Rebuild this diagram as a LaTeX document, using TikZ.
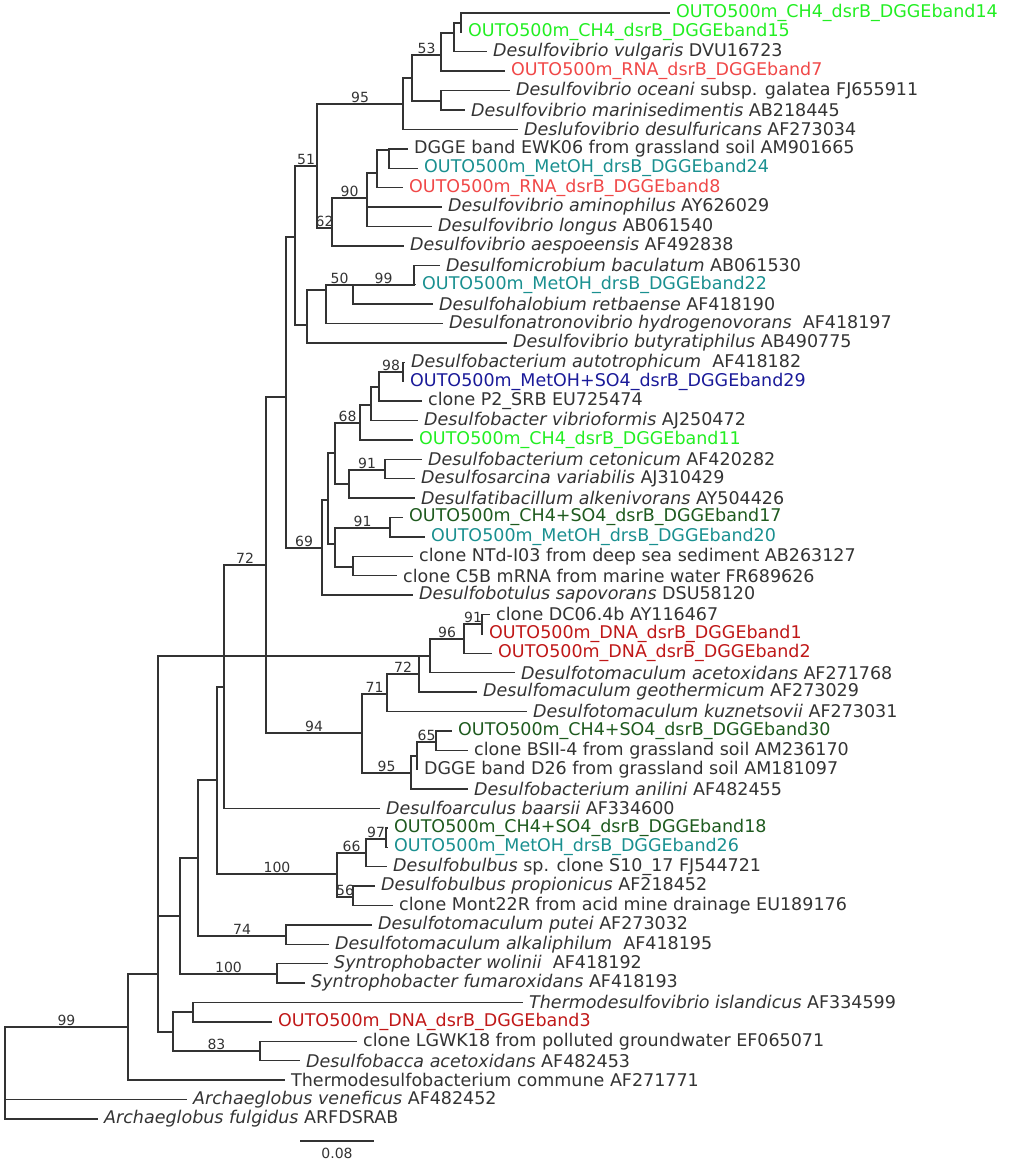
\documentclass[tikz,border=0pt]{standalone}
\usepackage{fontspec}
\setmainfont{DejaVu Sans}
\definecolor{lg}{HTML}{22EE22}
\definecolor{sal}{HTML}{F04848}
\definecolor{teal2}{HTML}{1A9090}
\definecolor{db}{HTML}{1A1A99}
\definecolor{dg}{HTML}{1E5A1E}
\definecolor{dr}{HTML}{C01818}
\definecolor{ln}{HTML}{333333}
\begin{document}
\begin{tikzpicture}[x=1pt,y=-1pt,
 br/.style={draw=ln,line width=1.4pt},
 bs/.style={pos=0.75,above,inner sep=1pt,font=\fontsize{14}{14}\selectfont,text=ln},
 lab/.style={anchor=west,inner xsep=6pt,inner ysep=0pt,font=\fontsize{17.5}{18}\selectfont,text=ln}]
\path[use as bounding box] (0,0) rectangle (1024,1164);
% leaves
\foreach \i/\xx in {1/670,2/462,3/487,4/505,5/510,6/465,7/518,8/408,9/418,10/403,11/442,12/432,13/404,14/440,15/416,16/433,17/443,18/507,19/405,20/404,21/422,22/418,23/413,24/422,25/415,26/415,27/403,28/425,29/413,30/397,31/413,32/490,33/483,34/492,35/515,36/477,37/527,38/452,39/468,40/418,41/468,42/380,43/388,44/388,45/387,46/375,47/393,48/372,49/329,50/328,51/305,52/523,53/272,54/357,55/300,56/285,57/187,58/98}
  {\coordinate (L\i) at (\xx,{13+19.4*(\i-1)});}
\node[lab,text=lg] (t1) at (L1) {OUTO500m\_CH4\_dsrB\_DGGEband14};
\node[lab,text=lg] (t2) at (L2) {OUTO500m\_CH4\_dsrB\_DGGEband15};
\node[lab] (t3) at (L3) {\textit{Desulfovibrio vulgaris} DVU16723};
\node[lab,text=sal] (t4) at (L4) {OUTO500m\_RNA\_dsrB\_DGGEband7};
\node[lab] (t5) at (L5) {\textit{Desulfovibrio oceani} subsp. galatea FJ655911};
\node[lab] (t6) at (L6) {\textit{Desulfovibrio marinisedimentis} AB218445};
\node[lab] (t7) at (L7) {\textit{Deslufovibrio desulfuricans} AF273034};
\node[lab] (t8) at (L8) {DGGE band EWK06 from grassland soil AM901665};
\node[lab,text=teal2] (t9) at (L9) {OUTO500m\_MetOH\_drsB\_DGGEband24};
\node[lab,text=sal] (t10) at (L10) {OUTO500m\_RNA\_dsrB\_DGGEband8};
\node[lab] (t11) at (L11) {\textit{Desulfovibrio aminophilus} AY626029};
\node[lab] (t12) at (L12) {\textit{Desulfovibrio longus} AB061540};
\node[lab] (t13) at (L13) {\textit{Desulfovibrio aespoeensis} AF492838};
\node[lab] (t14) at (L14) {\textit{Desulfomicrobium baculatum} AB061530};
\node[lab,text=teal2] (t15) at (L15) {OUTO500m\_MetOH\_drsB\_DGGEband22};
\node[lab] (t16) at (L16) {\textit{Desulfohalobium retbaense} AF418190};
\node[lab] (t17) at (L17) {\textit{Desulfonatronovibrio hydrogenovorans}\ \ AF418197};
\node[lab] (t18) at (L18) {\textit{Desulfovibrio butyratiphilus} AB490775};
\node[lab] (t19) at (L19) {\textit{Desulfobacterium autotrophicum}\ \ AF418182};
\node[lab,text=db] (t20) at (L20) {OUTO500m\_MetOH+SO4\_dsrB\_DGGEband29};
\node[lab] (t21) at (L21) {clone P2\_SRB EU725474};
\node[lab] (t22) at (L22) {\textit{Desulfobacter vibrioformis} AJ250472};
\node[lab,text=lg] (t23) at (L23) {OUTO500m\_CH4\_dsrB\_DGGEband11};
\node[lab] (t24) at (L24) {\textit{Desulfobacterium cetonicum} AF420282};
\node[lab] (t25) at (L25) {\textit{Desulfosarcina variabilis} AJ310429};
\node[lab] (t26) at (L26) {\textit{Desulfatibacillum alkenivorans} AY504426};
\node[lab,text=dg] (t27) at (L27) {OUTO500m\_CH4+SO4\_dsrB\_DGGEband17};
\node[lab,text=teal2] (t28) at (L28) {OUTO500m\_MetOH\_drsB\_DGGEband20};
\node[lab] (t29) at (L29) {clone NTd-I03 from deep sea sediment AB263127};
\node[lab] (t30) at (L30) {clone C5B mRNA from marine water FR689626};
\node[lab] (t31) at (L31) {\textit{Desulfobotulus sapovorans} DSU58120};
\node[lab] (t32) at (L32) {clone DC06.4b AY116467};
\node[lab,text=dr] (t33) at (L33) {OUTO500m\_DNA\_dsrB\_DGGEband1};
\node[lab,text=dr] (t34) at (L34) {OUTO500m\_DNA\_dsrB\_DGGEband2};
\node[lab] (t35) at (L35) {\textit{Desulfotomaculum acetoxidans} AF271768};
\node[lab] (t36) at (L36) {\textit{Desulfomaculum geothermicum} AF273029};
\node[lab] (t37) at (L37) {\textit{Desulfotomaculum kuznetsovii} AF273031};
\node[lab,text=dg] (t38) at (L38) {OUTO500m\_CH4+SO4\_dsrB\_DGGEband30};
\node[lab] (t39) at (L39) {clone BSII-4 from grassland soil AM236170};
\node[lab] (t40) at (L40) {DGGE band D26 from grassland soil AM181097};
\node[lab] (t41) at (L41) {\textit{Desulfobacterium anilini} AF482455};
\node[lab] (t42) at (L42) {\textit{Desulfoarculus baarsii} AF334600};
\node[lab,text=dg] (t43) at (L43) {OUTO500m\_CH4+SO4\_dsrB\_DGGEband18};
\node[lab,text=teal2] (t44) at (L44) {OUTO500m\_MetOH\_drsB\_DGGEband26};
\node[lab] (t45) at (L45) {\textit{Desulfobulbus} sp. clone S10\_17 FJ544721};
\node[lab] (t46) at (L46) {\textit{Desulfobulbus propionicus} AF218452};
\node[lab] (t47) at (L47) {clone Mont22R from acid mine drainage EU189176};
\node[lab] (t48) at (L48) {\textit{Desulfotomaculum putei} AF273032};
\node[lab] (t49) at (L49) {\textit{Desulfotomaculum alkaliphilum}\ \ AF418195};
\node[lab] (t50) at (L50) {\textit{Syntrophobacter wolinii}\ \ AF418192};
\node[lab] (t51) at (L51) {\textit{Syntrophobacter fumaroxidans} AF418193};
\node[lab] (t52) at (L52) {\textit{Thermodesulfovibrio islandicus} AF334599};
\node[lab,text=dr] (t53) at (L53) {OUTO500m\_DNA\_dsrB\_DGGEband3};
\node[lab] (t54) at (L54) {clone LGWK18 from polluted groundwater EF065071};
\node[lab] (t55) at (L55) {\textit{Desulfobacca acetoxidans} AF482453};
\node[lab] (t56) at (L56) {Thermodesulfobacterium commune AF271771};
\node[lab] (t57) at (L57) {\textit{Archaeglobus veneficus} AF482452};
\node[lab] (t58) at (L58) {\textit{Archaeglobus fulgidus} ARFDSRAB};
% internal nodes
\coordinate (R) at (5,1073);
\coordinate (N99) at (128,1027);
\coordinate (A) at (158,974);
\coordinate (B) at (180,916);
\coordinate (Syn) at (277,974);
\coordinate (D) at (198,858);
\coordinate (Put) at (286,936);
\coordinate (E) at (217,780);
\coordinate (Bulb) at (337,874);
\coordinate (N66) at (366,853);
\coordinate (N97) at (386,839);
\coordinate (N56) at (353,897);
\coordinate (F) at (224,687);
\coordinate (G) at (266,565);
\coordinate (N94) at (362,733);
\coordinate (N71) at (387,694);
\coordinate (N72) at (419,674);
\coordinate (N430) at (430,656);
\coordinate (N96) at (464,639);
\coordinate (N91b) at (482,624);
\coordinate (N95) at (411,773);
\coordinate (N417) at (417,756);
\coordinate (N65) at (436,742);
\coordinate (H) at (286,397);
\coordinate (N69) at (322,548);
\coordinate (J) at (328,500);
\coordinate (K) at (335,453);
\coordinate (M) at (335,544);
\coordinate (N68) at (360,423);
\coordinate (N371) at (371,405);
\coordinate (N379) at (379,387);
\coordinate (N98) at (403,372);
\coordinate (N349) at (349,484);
\coordinate (N91a) at (385,470);
\coordinate (N91c) at (390,528);
\coordinate (N353) at (353,567);
\coordinate (I) at (295,237);
\coordinate (N51) at (317,166);
\coordinate (N95b) at (403,104);
\coordinate (N412) at (412,78);
\coordinate (N53) at (441,55);
\coordinate (N454) at (454,33);
\coordinate (N461) at (461,23);
\coordinate (N441) at (441,101);
\coordinate (N62) at (332,228);
\coordinate (N90) at (367,198);
\coordinate (N377) at (377,173);
\coordinate (N389) at (389,150);
\coordinate (N307) at (307,325);
\coordinate (N326) at (326,290);
\coordinate (N50) at (353,285);
\coordinate (N99b) at (414,285);
% branches
\draw[br] (R) |- (N99) node[bs]{99};
\draw[br] (R) |- (L57);
\draw[br] (R) |- (L58);
\draw[br] (N99) |- (A);
\draw[br] (N99) |- (L56);
\draw[br] (A) |- (B);
\draw[br] (A) |- (N430);
\path (A) -- (A);
\coordinate (Cc) at (173,1032);
\draw[br] (A) |- (Cc);
\coordinate (N193) at (193,1012);
\coordinate (N83) at (260,1051);
\draw[br] (Cc) |- (N193);
\draw[br] (Cc) |- (N83) node[bs]{83};
\draw[br] (N193) |- (L52);
\draw[br] (N193) |- (L53);
\draw[br] (N83) |- (L54);
\draw[br] (N83) |- (L55);
\draw[br] (B) |- (D);
\draw[br] (B) |- (Syn) node[bs]{100};
\draw[br] (Syn) |- (L50);
\draw[br] (Syn) |- (L51);
\draw[br] (D) |- (E);
\draw[br] (D) |- (Put) node[bs]{74};
\draw[br] (Put) |- (L48);
\draw[br] (Put) |- (L49);
\draw[br] (E) |- (F);
\draw[br] (E) |- (Bulb) node[bs]{100};
\draw[br] (Bulb) |- (N66) node[bs]{66};
\draw[br] (Bulb) |- (N56) node[bs]{56};
\draw[br] (N66) |- (N97) node[bs]{97};
\draw[br] (N66) |- (L45);
\draw[br] (N97) |- (L43);
\draw[br] (N97) |- (L44);
\draw[br] (N56) |- (L46);
\draw[br] (N56) |- (L47);
\draw[br] (F) |- (G) node[bs]{72};
\draw[br] (F) |- (L42);
\draw[br] (G) |- (H);
\draw[br] (G) |- (N94) node[bs]{94};
\draw[br] (N94) |- (N71) node[bs]{71};
\draw[br] (N94) |- (N95) node[bs]{95};
\draw[br] (N71) |- (N72) node[bs]{72};
\draw[br] (N71) |- (L37);
\draw[br] (N72) |- (N430);
\draw[br] (N72) |- (L36);
\draw[br] (N430) |- (N96) node[bs]{96};
\draw[br] (N430) |- (L35);
\draw[br] (N96) |- (N91b) node[bs]{91};
\draw[br] (N96) |- (L34);
\draw[br] (N91b) |- (L32);
\draw[br] (N91b) |- (L33);
\draw[br] (N95) |- (N417);
\draw[br] (N95) |- (L41);
\draw[br] (N417) |- (N65) node[bs]{65};
\draw[br] (N417) |- (L40);
\draw[br] (N65) |- (L38);
\draw[br] (N65) |- (L39);
\draw[br] (H) |- (I);
\draw[br] (H) |- (N69) node[bs]{69};
\draw[br] (N69) |- (J);
\draw[br] (N69) |- (L31);
\draw[br] (J) |- (K);
\draw[br] (J) |- (M);
\draw[br] (K) |- (N68) node[bs]{68};
\draw[br] (K) |- (N349);
\draw[br] (N68) |- (N371);
\draw[br] (N68) |- (L23);
\draw[br] (N371) |- (N379);
\draw[br] (N371) |- (L22);
\draw[br] (N379) |- (N98) node[bs]{98};
\draw[br] (N379) |- (L21);
\draw[br] (N98) |- (L19);
\draw[br] (N98) |- (L20);
\draw[br] (N349) |- (N91a) node[bs]{91};
\draw[br] (N349) |- (L26);
\draw[br] (N91a) |- (L24);
\draw[br] (N91a) |- (L25);
\draw[br] (M) |- (N91c) node[bs]{91};
\draw[br] (M) |- (N353);
\draw[br] (N91c) |- (L27);
\draw[br] (N91c) |- (L28);
\draw[br] (N353) |- (L29);
\draw[br] (N353) |- (L30);
\draw[br] (I) |- (N51) node[bs]{51};
\draw[br] (I) |- (N307);
\draw[br] (N51) |- (N95b) node[bs]{95};
\draw[br] (N51) |- (N62) node[bs]{62};
\draw[br] (N95b) |- (N412);
\draw[br] (N95b) |- (L7);
\draw[br] (N412) |- (N53) node[bs]{53};
\draw[br] (N412) |- (N441);
\draw[br] (N53) |- (N454);
\draw[br] (N53) |- (L4);
\draw[br] (N454) |- (N461);
\draw[br] (N454) |- (L3);
\draw[br] (N461) |- (L1);
\draw[br] (N461) |- (L2);
\draw[br] (N441) |- (L5);
\draw[br] (N441) |- (L6);
\draw[br] (N62) |- (N90) node[bs]{90};
\draw[br] (N62) |- (L13);
\draw[br] (N90) |- (N377);
\draw[br] (N90) |- (L11);
\draw[br] (N90) |- (L12);
\draw[br] (N377) |- (N389);
\draw[br] (N377) |- (L10);
\draw[br] (N389) |- (L8);
\draw[br] (N389) |- (L9);
\draw[br] (N307) |- (N326);
\draw[br] (N307) |- (L18);
\draw[br] (N326) |- (N50) node[bs]{50};
\draw[br] (N326) |- (L17);
\draw[br] (N50) |- (N99b) node[bs]{99};
\draw[br] (N50) |- (L16);
\draw[br] (N99b) |- (L14);
\draw[br] (N99b) |- (L15);
% scale bar
\coordinate (s1) at (300,1141);
\coordinate (s2) at (374,1141);
\draw[br] (s1) -- (s2) node[midway,below=3pt,font=\fontsize{14}{14}\selectfont,text=ln] (sl) {0.08};
\end{tikzpicture}
\end{document}
